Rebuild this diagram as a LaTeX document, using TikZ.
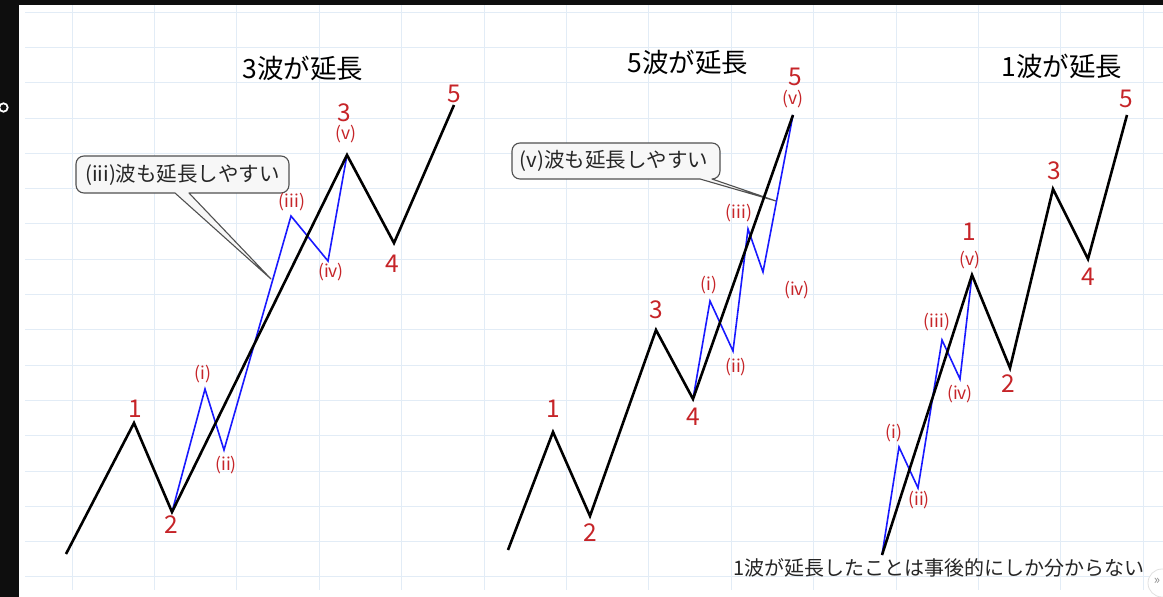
\documentclass[tikz,border=0pt]{standalone}
\usepackage{fontspec}
\setmainfont{Noto Sans CJK JP}
\definecolor{gridc}{RGB}{226,236,246}
\definecolor{wred}{RGB}{198,36,40}
\definecolor{wblue}{RGB}{25,25,255}
\definecolor{bar}{RGB}{14,14,14}
\definecolor{calloutfill}{RGB}{247,247,247}
\definecolor{calloutdraw}{RGB}{80,80,80}
\tikzset{
  gridline/.style={draw=gridc,line width=0.8pt},
  mainwave/.style={draw=black,line width=2.6pt,line join=miter},
  subwave/.style={draw=wblue,line width=1.6pt,line join=miter},
  numlabel/.style={text=wred,font=\fontsize{24.5}{25}\selectfont,inner sep=0pt},
  sublabel/.style={text=wred,font=\fontsize{17.5}{18}\selectfont,inner sep=0pt},
  titlelabel/.style={text=black,font=\fontsize{26.5}{27}\selectfont,inner sep=0pt},
  calloutshape/.style={fill=calloutfill,draw=calloutdraw,line width=1.1pt,line join=round},
  callouttext/.style={text=black!85,font=\fontsize{20.5}{21}\selectfont,inner sep=0pt},
  notetext/.style={text=black!85,font=\fontsize{20}{20}\selectfont,inner sep=0pt}
}
\begin{document}
\begin{tikzpicture}[x=1pt,y=-1pt]
\useasboundingbox (0,0) rectangle (1163,597);
\fill[white] (0,0) rectangle (1163,597);
% grid
\foreach \i in {0,...,13} \draw[gridline] ({72+82.4*\i},5) -- ({72+82.4*\i},590);
\foreach \i in {0,...,16} \draw[gridline] (25,{12+35.3*\i}) -- (1163,{12+35.3*\i});
% frame bars
\fill[bar] (0,0) rectangle (1163,5);
\fill[bar] (0,0) rectangle (19,597);
\draw[white,line width=1.8pt] (3.5,107.5) circle (4.2);

% ---------- left chart: 3波が延長 ----------
\node[titlelabel] (t1) at (303,68) {3波が延長};
\coordinate (a0) at (66,554);
\coordinate (a1) at (134,423);
\coordinate (a2) at (172,512);
\coordinate (a3) at (347,155);
\coordinate (a4) at (394,243);
\coordinate (a5) at (454,105);
\coordinate (ai) at (205,389);
\coordinate (aii) at (224,450);
\coordinate (aiii) at (291,216);
\coordinate (aiv) at (328,261);
\coordinate (atip) at (271,279);
% callout
\draw[calloutshape] (84,156) -- (281,156) arc[start angle=-90,end angle=0,radius=8]
  -- (289,185) arc[start angle=0,end angle=90,radius=8]
  -- (189,193) -- (atip) -- (175,193)
  -- (84,193) arc[start angle=90,end angle=180,radius=8]
  -- (76,164) arc[start angle=180,end angle=270,radius=8] -- cycle;
\node[callouttext] (c1) at (182.5,175) {(iii)波も延長しやすい};
\draw[subwave] (a2) -- (ai) -- (aii) -- (aiii) -- (aiv) -- (a3);
\draw[mainwave] (a0) -- (a1) -- (a2) -- (a3) -- (a4) -- (a5);
\node[numlabel] (la1) at (135,409) {1};
\node[numlabel] (la2) at (171,525) {2};
\node[numlabel] (la3) at (344,113) {3};
\node[numlabel] (la4) at (392,264) {4};
\node[numlabel] (la5) at (454,94) {5};
\node[sublabel] (lai) at (203,374) {(i)};
\node[sublabel] (laii) at (226,465) {(ii)};
\node[sublabel] (laiii) at (292,202) {(iii)};
\node[sublabel] (laiv) at (331,272) {(iv)};
\node[sublabel] (lav) at (346,134) {(v)};

% ---------- middle chart: 5波が延長 ----------
\node[titlelabel] (t2) at (688,62) {5波が延長};
\coordinate (b0) at (508,550);
\coordinate (b1) at (553,432);
\coordinate (b2) at (590,516);
\coordinate (b3) at (656,330);
\coordinate (b4) at (693,399);
\coordinate (b5) at (793,115);
\coordinate (bi) at (710,301);
\coordinate (bii) at (733,351);
\coordinate (biii) at (748,229);
\coordinate (biv) at (763,272);
\coordinate (btip) at (776,201);
\draw[calloutshape] (520,143) -- (712,143) arc[start angle=-90,end angle=0,radius=8]
  -- (720,171) arc[start angle=0,end angle=90,radius=8]
  -- (btip) -- (700,179)
  -- (520,179) arc[start angle=90,end angle=180,radius=8]
  -- (512,151) arc[start angle=180,end angle=270,radius=8] -- cycle;
\node[callouttext] (c2) at (614,161) {(v)波も延長しやすい};
\draw[subwave] (b4) -- (bi) -- (bii) -- (biii) -- (biv) -- (b5);
\draw[mainwave] (b0) -- (b1) -- (b2) -- (b3) -- (b4) -- (b5);
\node[numlabel] (lb1) at (553,409) {1};
\node[numlabel] (lb2) at (590,533) {2};
\node[numlabel] (lb3) at (656,310) {3};
\node[numlabel] (lb4) at (693,417) {4};
\node[numlabel] (lb5) at (795,77) {5};
\node[sublabel] (lbi) at (709,285) {(i)};
\node[sublabel] (lbii) at (736,367) {(ii)};
\node[sublabel] (lbiii) at (739,213) {(iii)};
\node[sublabel] (lbiv) at (797,290) {(iv)};
\node[sublabel] (lbv) at (793,99) {(v)};

% ---------- right chart: 1波が延長 ----------
\node[titlelabel] (t3) at (1062,66) {1波が延長};
\coordinate (c0) at (882,555);
\coordinate (c1p) at (972,275);
\coordinate (c2p) at (1010,368);
\coordinate (c3p) at (1053,189);
\coordinate (c4p) at (1088,259);
\coordinate (c5p) at (1127,115);
\coordinate (ci) at (899,447);
\coordinate (cii) at (918,488);
\coordinate (ciii) at (942,340);
\coordinate (civ) at (960,379);
\draw[subwave] (c0) -- (ci) -- (cii) -- (ciii) -- (civ) -- (c1p);
\draw[mainwave] (c0) -- (c1p) -- (c2p) -- (c3p) -- (c4p) -- (c5p);
\node[numlabel] (lc1) at (969,232) {1};
\node[numlabel] (lc2) at (1008,384) {2};
\node[numlabel] (lc3) at (1054,171) {3};
\node[numlabel] (lc4) at (1088,277) {4};
\node[numlabel] (lc5) at (1126,99) {5};
\node[sublabel] (lci) at (894,433) {(i)};
\node[sublabel] (lcii) at (919,500) {(ii)};
\node[sublabel] (lciii) at (937,322) {(iii)};
\node[sublabel] (lciv) at (960,394) {(iv)};
\node[sublabel] (lcv) at (970,260) {(v)};
\node[notetext] (note) at (939,568) {1波が延長したことは事後的にしか分からない};

% corner button
\draw[fill=white,draw=black!12,line width=0.8pt] (1162,583) circle (14);
\node[text=black!45,font=\fontsize{13}{13}\selectfont,inner sep=0pt] (btn) at (1157,581) {»};
\end{tikzpicture}
\end{document}
